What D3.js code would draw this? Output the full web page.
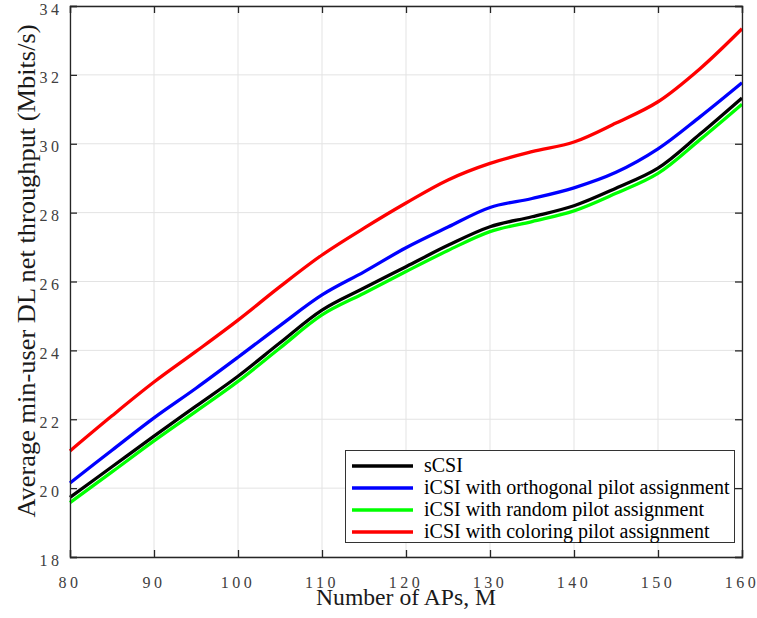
<!DOCTYPE html>
<html>
<head>
<meta charset="utf-8">
<script src="https://cdn.jsdelivr.net/npm/d3@7"></script>
<style>
  html, body { margin: 0; padding: 0; background: #fff; }
  svg { display: block; }
</style>
</head>
<body>
<svg id="chart" width="757" height="618"></svg>
<script>
const xValues = [80, 85, 90, 95, 100, 105, 110, 115, 120, 125, 130, 135, 140, 145, 150, 155, 160];
const sCSI        = [19.73, 20.62, 21.51, 22.38, 23.25, 24.22, 25.17, 25.81, 26.43, 27.05, 27.59, 27.88, 28.2, 28.71, 29.29, 30.28, 31.33];
const iCSIorth    = [20.15, 21.10, 22.04, 22.90, 23.80, 24.72, 25.61, 26.28, 26.98, 27.58, 28.15, 28.41, 28.72, 29.17, 29.85, 30.78, 31.77];
const iCSIrandom  = [19.58, 20.47, 21.37, 22.23, 23.10, 24.07, 25.03, 25.66, 26.29, 26.90, 27.45, 27.74, 28.05, 28.56, 29.14, 30.12, 31.15];
const iCSIcolor   = [21.08, 22.10, 23.08, 23.97, 24.88, 25.85, 26.77, 27.55, 28.28, 28.95, 29.43, 29.77, 30.05, 30.60, 31.22, 32.18, 33.34];

const seriesNames  = ["sCSI", "iCSI with orthogonal pilot assignment", "iCSI with random pilot assignment", "iCSI with coloring pilot assignment"];
const seriesValues = [sCSI, iCSIorth, iCSIrandom, iCSIcolor];
const seriesColors = ["#000000", "#0000ff", "#00ff00", "#ff0000"];
const drawOrder = [3, 1, 0, 2]; // red, blue, black, green (green on top of black)

const xTicks = [80, 90, 100, 110, 120, 130, 140, 150, 160];
const yTicks = [18, 20, 22, 24, 26, 28, 30, 32, 34];
const xLabel = "Number of APs, M";
const yLabel = "Average min-user DL net throughput (Mbits/s)";

const svg = d3.select("#chart");
const L = 70, R = 742, T = 6, B = 557;
const x = d3.scaleLinear().domain([80, 160]).range([L, R]);
const y = d3.scaleLinear().domain([18, 34]).range([B, T]);

const serif = "'Liberation Serif', 'Times New Roman', Times, serif";
const axisColor = "#262626";
const tickColor = "#404040";

// grid
const grid = svg.append("g");
grid.selectAll("line.gx").data(xTicks).join("line")
  .attr("x1", d => x(d)).attr("x2", d => x(d)).attr("y1", T).attr("y2", B)
  .attr("stroke", "#e3e3e3").attr("stroke-width", 1);
grid.selectAll("line.gy").data(yTicks).join("line")
  .attr("x1", L).attr("x2", R).attr("y1", d => y(d)).attr("y2", d => y(d))
  .attr("stroke", "#e3e3e3").attr("stroke-width", 1);

// axes via d3 axis
const xAxisB = d3.axisBottom(x).tickValues(xTicks).tickSize(-7).tickFormat("");
const xAxisT = d3.axisTop(x).tickValues(xTicks).tickSize(-7).tickFormat("");
const yAxisL = d3.axisLeft(y).tickValues(yTicks).tickSize(-7).tickFormat("");
const yAxisR = d3.axisRight(y).tickValues(yTicks).tickSize(-7).tickFormat("");

function styleAxis(g) {
  g.selectAll("path").attr("stroke", axisColor).attr("stroke-width", 1.3);
  g.selectAll("line").attr("stroke", axisColor).attr("stroke-width", 1.3);
}

// lines
const line = d3.line()
  .x((d, i) => x(xValues[i]))
  .y(d => y(d))
  .curve(d3.curveCatmullRom.alpha(0.5));

const lines = svg.append("g");
drawOrder.forEach(k => {
  lines.append("path")
    .datum(seriesValues[k])
    .attr("d", line)
    .attr("fill", "none")
    .attr("stroke", seriesColors[k])
    .attr("stroke-width", 3.3)
    .attr("stroke-linejoin", "round");
});

svg.append("g").attr("transform", `translate(0,${B})`).call(xAxisB).call(styleAxis);
svg.append("g").attr("transform", `translate(0,${T})`).call(xAxisT).call(styleAxis);
svg.append("g").attr("transform", `translate(${L},0)`).call(yAxisL).call(styleAxis);
svg.append("g").attr("transform", `translate(${R},0)`).call(yAxisR).call(styleAxis);

// tick labels
const ls = 3.5;
svg.append("g").selectAll("text").data(xTicks).join("text")
  .attr("x", d => x(d))
  .attr("y", 588)
  .attr("text-anchor", "middle")
  .attr("font-family", serif).attr("font-size", 16)
  .attr("letter-spacing", ls)
  .attr("fill", tickColor)
  .text(d => d);
svg.append("g").selectAll("text").data(yTicks).join("text")
  .attr("x", 59 + ls)
  .attr("y", d => y(d) + 8.5)
  .attr("text-anchor", "end")
  .attr("font-family", serif).attr("font-size", 16)
  .attr("letter-spacing", ls)
  .attr("fill", tickColor)
  .text(d => d);

// axis labels
svg.append("text")
  .attr("x", 406).attr("y", 605)
  .attr("text-anchor", "middle")
  .attr("font-family", serif).attr("font-size", 24)
  .attr("textLength", 180).attr("lengthAdjust", "spacingAndGlyphs")
  .attr("fill", "#1a1a1a")
  .text(xLabel);
svg.append("text")
  .attr("transform", "translate(35,271) rotate(-90)")
  .attr("text-anchor", "middle")
  .attr("font-family", serif).attr("font-size", 26)
  .attr("textLength", 493).attr("lengthAdjust", "spacingAndGlyphs")
  .attr("fill", "#1a1a1a")
  .text(yLabel);

// legend
const leg = svg.append("g");
leg.append("rect")
  .attr("x", 345.5).attr("y", 450.5).attr("width", 389).attr("height", 92)
  .attr("fill", "#fff").attr("stroke", "#333").attr("stroke-width", 1);
seriesNames.forEach((name, i) => {
  const cy = 466 + i * 22;
  leg.append("line")
    .attr("x1", 352).attr("x2", 413).attr("y1", cy).attr("y2", cy)
    .attr("stroke", seriesColors[i]).attr("stroke-width", 3.3);
  leg.append("text")
    .attr("x", 424).attr("y", cy + 6)
    .attr("font-family", serif).attr("font-size", 20)
    .attr("fill", "#000")
    .text(name);
});
</script>
</body>
</html>
